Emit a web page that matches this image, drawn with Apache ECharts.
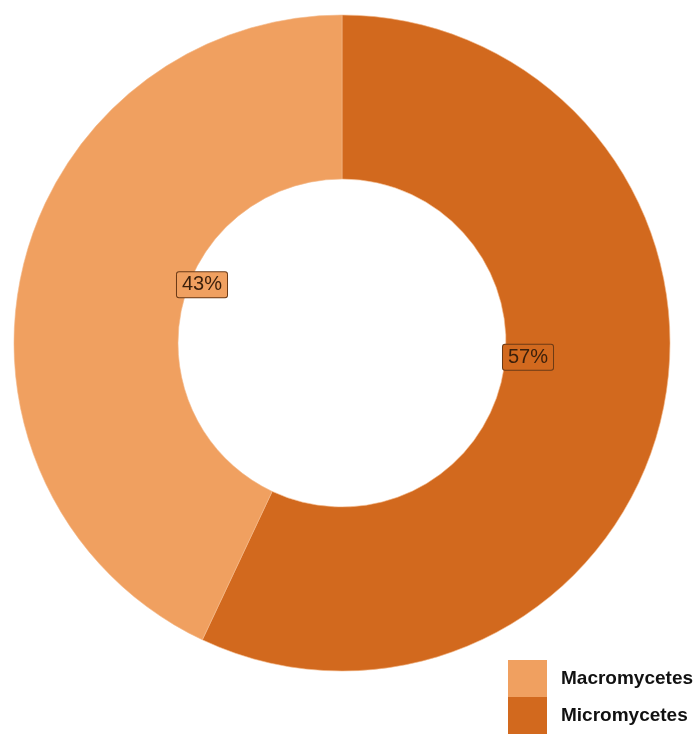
<!DOCTYPE html>
<html>
<head>
<meta charset="utf-8">
<script src="https://cdn.jsdelivr.net/npm/echarts@6/dist/echarts.min.js"></script>
<style>
  html, body { margin: 0; padding: 0; background: #ffffff; }
  #chart { width: 699px; height: 735px; }
</style>
</head>
<body>
<div id="chart"></div>
<script>
// Share of fungal groups (percent)
const categories = ['Micromycetes', 'Macromycetes'];
const values = [57, 43];
const legendOrder = ['Macromycetes', 'Micromycetes'];
const colors = { Micromycetes: '#D2691E', Macromycetes: '#F0A060' };
// label nudges from the ring midline toward the hole
const labelOffsets = { Micromycetes: [-57, -40], Macromycetes: [103, -4] };

const chart = echarts.init(document.getElementById('chart'), null, { renderer: 'canvas' });

const data = categories.map((name, i) => ({
  name: name,
  value: values[i],
  itemStyle: { color: colors[name] },
  label: {
    offset: labelOffsets[name],
    backgroundColor: colors[name]
  }
}));

chart.setOption({
  animation: false,
  backgroundColor: '#ffffff',
  legend: {
    data: legendOrder,
    orient: 'vertical',
    left: 508,
    top: 660,
    height: 90,
    padding: 0,
    itemWidth: 39,
    itemHeight: 37,
    itemGap: 0,
    icon: 'rect',
    selectedMode: false,
    itemStyle: { borderWidth: 0 },
    textStyle: {
      fontFamily: 'Liberation Sans, Arial, sans-serif',
      fontWeight: 'bold',
      fontSize: 19,
      color: '#111111',
      lineHeight: 19,
      padding: [14, 0, 0, 9]
    }
  },
  series: [{
    type: 'pie',
    center: [342, 343],
    radius: [164, 328],
    startAngle: 90,
    clockwise: true,
    silent: true,
    itemStyle: { borderColor: '#f4b88a', borderWidth: 0.6 },
    label: {
      show: true,
      position: 'inside',
      formatter: '{c}%',
      fontFamily: 'Liberation Sans, Arial, sans-serif',
      fontSize: 20,
      color: '#3a1f0b',
      borderColor: '#6b3a16',
      borderWidth: 1,
      borderRadius: 2,
      padding: [3, 5, 2, 5]
    },
    labelLine: { show: false },
    data: data
  }]
});
</script>
</body>
</html>
